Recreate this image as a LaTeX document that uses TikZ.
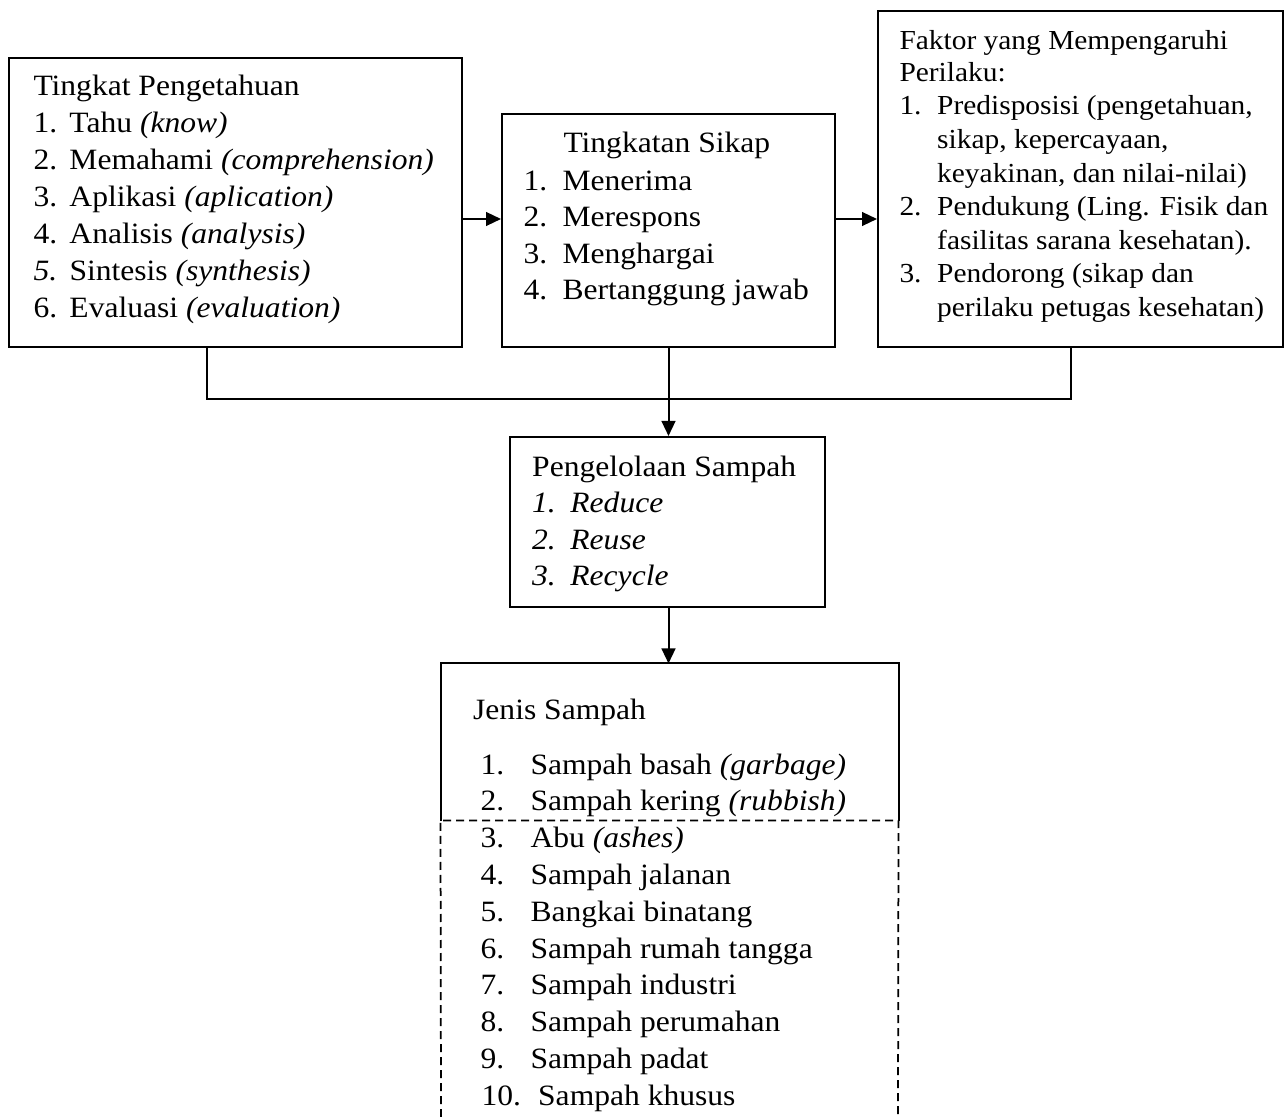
\documentclass[tikz,border=0pt]{standalone}
\usepackage{fontspec}
\usepackage{graphicx}
\setmainfont{Liberation Serif}
\usetikzlibrary{arrows.meta,fit}
\newcommand\fsM{\fontsize{11.8}{14}\selectfont}
\newcommand\fsS{\fontsize{11}{13}\selectfont}
\newcommand\st[1]{\scalebox{1.07}[1]{#1}}
\newcommand\lbl[2]{\makebox[#1][l]{#2}}
\begin{document}
\begin{tikzpicture}[x=0.4pt,y=-0.4pt,
  frame/.style={draw, line width=0.8pt},
  boxnode/.style={frame, inner sep=0pt},
  hidden/.style={inner sep=0pt},
  conn/.style={line width=0.8pt},
  arr/.style={line width=0.8pt, -{Triangle[length=6pt,width=5.5pt]}},
  dashline/.style={line width=0.7pt, dash pattern=on 3.2pt off 2pt},
  tm/.style={anchor=base west, inner sep=0pt, font=\fsM},
  ts/.style={anchor=base west, inner sep=0pt, font=\fsS}]
\useasboundingbox (0,0) rectangle (1286,1117);
% boxes
\node[boxnode, fit={(9,58) (462,347)}] (b1) {};
\node[boxnode, fit={(502,114) (835,347)}] (b2) {};
\node[boxnode, fit={(878,11) (1283,347)}] (b3) {};
\node[boxnode, fit={(510,437) (825,607)}] (b4) {};
\node[hidden, fit={(441,664) (898,820)}] (b5) {};
\draw[frame] (b5.south west) -- (b5.north west) -- (b5.north east) -- (b5.south east);
\coordinate (b5bl) at (441,1117);
\coordinate (b5br) at (898,1117);
\draw[dashline] (b5bl) -- (b5.south west) -- (b5.south east) -- (b5br);
% connectors
\coordinate (ya) at (0,219);
\coordinate (j1) at (207,399);
\coordinate (j3) at (1071,399);
\draw[arr] (b1.east |- ya) -- (b2.west |- ya);
\draw[arr] (b2.east |- ya) -- (b3.west |- ya);
\draw[conn] (b1.south -| j1) -- (j1) -- (j3) -- (b3.south -| j3);
\draw[arr] (b2.south) -- (b2.south |- b4.north);
\draw[arr] (b4.south -| b2.south) -- (b2.south |- b5.north);
% box 1 text
\node[tm] (t1h) at (33,96) {\st{Tingkat Pengetahuan}};
\node[tm] (t1a) at (33,133) {\st{\lbl{13.46pt}{1.}Tahu \textit{(know)}}};
\node[tm] (t1b) at (33,170) {\st{\lbl{13.46pt}{2.}Memahami \textit{(comprehension)}}};
\node[tm] (t1c) at (33,207) {\st{\lbl{13.46pt}{3.}Aplikasi \textit{(aplication)}}};
\node[tm] (t1d) at (33,244) {\st{\lbl{13.46pt}{4.}Analisis \textit{(analysis)}}};
\node[tm] (t1e) at (33,281) {\st{\lbl{13.46pt}{\textit{5.}}Sintesis \textit{(synthesis)}}};
\node[tm] (t1f) at (33,318) {\st{\lbl{13.46pt}{6.}Evaluasi \textit{(evaluation)}}};
% box 2 text
\node[tm] (t2h) at (563,153) {\st{Tingkatan Sikap}};
\node[tm] (t2a) at (523,190.5) {\st{\lbl{14.6pt}{1.}Menerima}};
\node[tm] (t2b) at (523,227) {\st{\lbl{14.6pt}{2.}Merespons}};
\node[tm] (t2c) at (523,263.5) {\st{\lbl{14.6pt}{3.}Menghargai}};
\node[tm] (t2d) at (523,300) {\st{\lbl{14.6pt}{4.}Bertanggung jawab}};
% box 3 text
\node[ts] (t3h) at (899,50) {\st{Faktor yang Mempengaruhi}};
\node[ts] (t3i) at (899,82) {\st{Perilaku:}};
\node[ts] (t3a) at (899,115) {\st{\lbl{14.1pt}{1.}Predisposisi (pengetahuan,}};
\node[ts] (t3b) at (936.7,148.6) {\st{sikap, kepercayaan,}};
\node[ts] (t3c) at (936.7,182.2) {\st{keyakinan, dan nilai-nilai)}};
\node[ts] (t3d) at (899,215.8) {\st{\lbl{14.1pt}{2.}Pendukung (Ling. Fisik dan}};
\node[ts] (t3e) at (936.7,249.4) {\st{fasilitas sarana kesehatan).}};
\node[ts] (t3f) at (899,283) {\st{\lbl{14.1pt}{3.}Pendorong (sikap dan}};
\node[ts] (t3g) at (936.7,316.6) {\st{perilaku petugas kesehatan)}};
% box 4 text
\node[tm] (t4h) at (531.7,477) {\st{Pengelolaan Sampah}};
\node[tm] (t4a) at (531.7,513) {\st{\itshape\lbl{14.3pt}{1.}Reduce}};
\node[tm] (t4b) at (531.7,549.5) {\st{\itshape\lbl{14.3pt}{2.}Reuse}};
\node[tm] (t4c) at (531.7,586) {\st{\itshape\lbl{14.3pt}{3.}Recycle}};
% box 5 text
\node[tm] (t5h) at (472.7,719) {\st{Jenis Sampah}};
\node[tm] (t5a) at (480,774) {\st{\lbl{18.7pt}{1.}Sampah basah \textit{(garbage)}}};
\node[tm] (t5b) at (480,810.8) {\st{\lbl{18.7pt}{2.}Sampah kering \textit{(rubbish)}}};
\node[tm] (t5c) at (480,847.6) {\st{\lbl{18.7pt}{3.}Abu \textit{(ashes)}}};
\node[tm] (t5d) at (480,884.4) {\st{\lbl{18.7pt}{4.}Sampah jalanan}};
\node[tm] (t5e) at (480,921.2) {\st{\lbl{18.7pt}{5.}Bangkai binatang}};
\node[tm] (t5f) at (480,958) {\st{\lbl{18.7pt}{6.}Sampah rumah tangga}};
\node[tm] (t5g) at (480,994.8) {\st{\lbl{18.7pt}{7.}Sampah industri}};
\node[tm] (t5h2) at (480,1031.6) {\st{\lbl{18.7pt}{8.}Sampah perumahan}};
\node[tm] (t5i) at (480,1068.4) {\st{\lbl{18.7pt}{9.}Sampah padat}};
\node[tm] (t5j) at (481,1105.2) {\st{\lbl{21.2pt}{10.}Sampah khusus}};
\end{tikzpicture}
\end{document}
